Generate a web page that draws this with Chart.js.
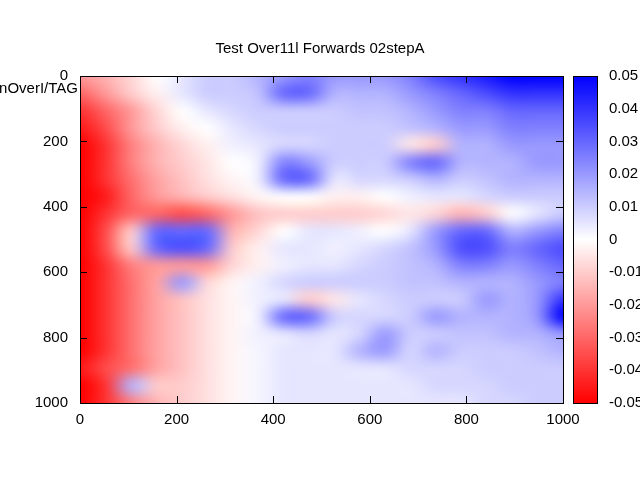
<!DOCTYPE html>
<html><head><meta charset="utf-8">
<script src="https://cdn.jsdelivr.net/npm/chart.js@4/dist/chart.umd.min.js"></script>
<style>html,body{margin:0;padding:0;background:#fff}#c{display:block}</style>
</head><body>
<canvas id="c" width="640" height="480"></canvas>
<script>
const titleText = "Test Over11l Forwards 02stepA";
const yLabelText = "nOverI/TAG";
const xTicks = [0, 200, 400, 600, 800, 1000];
const cbTicks = [0.05, 0.04, 0.03, 0.02, 0.01, 0, -0.01, -0.02, -0.03, -0.04, -0.05];
const xCenters = [25,75,125,175,225,275,325,375,425,475,525,575,625,675,725,775,825,875,925,975];
const yCenters = [25,75,125,175,225,275,325,375,425,475,525,575,625,675,725,775,825,875,925,975];
// values in units of 0.01, row by row (top y=0 to bottom y=1000)
const gridPct = [
[-2,-1.5,-0.8,0,0.5,1,1,1.5,2,2.5,2,2,2,2.5,3.5,4,4.5,5,5,5],
[-3,-2,-1,-0.3,0.5,1,1,1.2,3,3,1.5,1.5,1.5,2,2.5,3,3.5,4,4,4],
[-4,-3,-2,-0.8,0,0.5,0.8,1,1,1,1,1.2,1.2,1.5,2,2.5,2.5,3,3,3],
[-4.5,-3.5,-2,-1,-0.3,0,0.5,0.8,1,1,1,1,1,1.2,1.5,2,2,2.5,2.5,2.5],
[-5,-4,-2.5,-1.5,-0.8,-0.3,0.3,0.5,0.8,0.8,1,1,1,-0.5,-1,1.5,1.5,2,2,2],
[-5,-4,-2.5,-1.5,-1,-0.5,0,0.3,2.5,2,1,1,1,2.5,3,1.5,1.5,1.5,2,2],
[-5,-4,-2.8,-1.8,-1.2,-0.6,-0.2,0.3,3,3,0.5,0.8,0.8,1,1.5,1,1.2,1.5,1.5,1.5],
[-5,-4.5,-3,-2,-1.5,-1,-0.6,-0.2,0,0,-0.3,-0.3,0,0.3,0.5,0.5,0.8,1,1,1],
[-5,-4,-3,-3,-3.5,-3,-2,-1.2,-1,-1,-1,-1,-0.8,-0.5,-0.8,-1.5,-1,0,0.5,1],
[-5,-3.5,-1,3,3,3,-1.5,-0.8,0,0.5,0.5,0.3,0,0.5,2,3,3,1.5,2,2.5],
[-5,-3.5,-1,3,3.5,3,-1,-0.3,0.5,0.5,0.3,0.5,0.8,1.2,2,3.5,3.5,2.5,3,3.5],
[-5,-4,-2.5,-2,-2,-2,-0.8,-0.3,0.3,0.5,0.5,0.8,1,1.2,1.5,2.5,2.5,2,2.5,3],
[-5,-4,-2.8,-1.8,2,-0.8,-0.2,0.3,0.8,1,1,1,1,1.2,1.2,1.5,1.5,1.5,2,2.5],
[-5,-4,-2.8,-1.8,-1.2,-0.6,-0.2,0.3,0.5,-1,-0.5,0.5,0.8,1,1,1,2,1.5,2,4],
[-5,-4,-2.8,-1.8,-1.2,-0.6,-0.2,0.3,3,3,1,0.8,0.8,1,2,1.5,1.5,1.5,2,5],
[-5,-4,-2.8,-1.8,-1.2,-0.6,-0.2,0.3,0.5,0.8,0.5,0.8,2,1,1,1.2,1.2,1.5,1.5,2],
[-5,-4,-2.8,-1.8,-1.2,-0.6,-0.2,0.2,0.5,0.5,0.5,1.5,2,0.8,1.5,1,1,1,1.2,1.5],
[-4.5,-3.5,-2.8,-1.8,-1.2,-0.6,-0.2,0.2,0.5,0.5,0.5,0.5,0.5,0.8,0.8,0.8,1,1,1,1],
[-5,-4,1.5,-1,-1,-0.6,-0.2,0.2,0.5,0.5,0.5,0.5,0.5,0.5,0.8,0.8,0.8,1,1,1],
[-5,-4,-2.5,-1.5,-1,-0.6,-0.2,0.2,0.5,0.5,0.5,0.5,0.5,0.5,0.5,0.5,0.8,0.8,1,1]
];
const FONT = "Liberation Sans, Arial, sans-serif";
function colorFor(v){
  const t = Math.max(-1, Math.min(1, v/0.05));
  if (t < 0) { const g = Math.round(255*(1+t)); return [255,g,g]; }
  const g = Math.round(255*(1-t)); return [g,g,255];
}
const points = [];
gridPct.forEach((row,i)=>row.forEach((p,j)=>points.push({x:xCenters[j], y:yCenters[i], v:p/100})));

const heatPlugin = {
  id:'heat',
  beforeDatasetsDraw(chart){
    const ctx = chart.ctx, xs = chart.scales.x, ys = chart.scales.y, cs = chart.scales.c;
    const nx = xCenters.length, ny = yCenters.length;
    const off = document.createElement('canvas'); off.width = nx; off.height = ny;
    const octx = off.getContext('2d'); const img = octx.createImageData(nx, ny);
    points.forEach((p,k)=>{ const c = colorFor(p.v); img.data.set([c[0],c[1],c[2],255], k*4); });
    octx.putImageData(img,0,0);
    const l = xs.getPixelForValue(0), r = xs.getPixelForValue(1000);
    const t = ys.getPixelForValue(0), b = ys.getPixelForValue(1000);
    const cw = (r-l)/nx, ch = (b-t)/ny;
    ctx.save();
    ctx.beginPath(); ctx.rect(l,t,r-l,b-t); ctx.clip();
    ctx.imageSmoothingEnabled = true; ctx.imageSmoothingQuality = 'high';
    ctx.drawImage(off, 0,0,nx,ny, l, t, r-l, b-t);
    ctx.drawImage(off, l - cw/2, t - ch/2, r-l+cw, b-t+ch);
    ctx.restore();
    ctx.save(); ctx.strokeStyle='#000'; ctx.lineWidth=1;
    ctx.strokeRect(l+0.5,t+0.5,r-l,b-t);
    ctx.beginPath();
    xTicks.forEach(v=>{const x=Math.round(xs.getPixelForValue(v))+0.5; ctx.moveTo(x,t);ctx.lineTo(x,t+7);ctx.moveTo(x,b);ctx.lineTo(x,b-7);});
    xTicks.forEach(v=>{const y=Math.round(ys.getPixelForValue(v))+0.5; ctx.moveTo(l,y);ctx.lineTo(l+7,y);ctx.moveTo(r,y);ctx.lineTo(r-7,y);});
    ctx.stroke();
    const cl = 573, cr = 597;
    const ct = cs.getPixelForValue(0.05), cb = cs.getPixelForValue(-0.05);
    for (let y = Math.floor(ct); y < Math.ceil(cb); y++){
      const v = cs.getValueForPixel(y+0.5); const c = colorFor(v);
      ctx.fillStyle = `rgb(${c[0]},${c[1]},${c[2]})`; ctx.fillRect(cl,y,cr-cl,1);
    }
    ctx.strokeRect(cl+0.5,ct+0.5,cr-cl,cb-ct);
    ctx.fillStyle='#000'; ctx.font = `15px ${FONT}`; ctx.textAlign='right'; ctx.textBaseline='middle';
    ctx.fillText(yLabelText, l-2, t+13);
    ctx.restore();
  }
};

new Chart(document.getElementById('c'), {
  type:'scatter',
  data:{datasets:[{data:[], pointRadius:0}]},
  plugins:[heatPlugin],
  options:{
    responsive:false, animation:false, devicePixelRatio:1,
    layout:{padding:{left:0,right:0,top:0,bottom:43}},
    plugins:{legend:{display:false}, tooltip:{enabled:false},
      title:{display:true, text:titleText, color:'#000', font:{family:FONT,size:15,weight:'normal'}, padding:{top:40,bottom:18}}},
    scales:{
      x:{type:'linear', min:0, max:1000, afterBuildTicks:a=>{a.ticks=xTicks.map(v=>({value:v}));},
        grid:{display:false, drawTicks:false}, border:{display:false},
        ticks:{color:'#000', font:{family:FONT,size:15}, padding:8, maxRotation:0, callback:v=>String(v)}},
      y:{type:'linear', reverse:true, min:0, max:1000, afterBuildTicks:a=>{a.ticks=xTicks.map(v=>({value:v}));},
        afterFit:a=>{a.width=80;},
        grid:{display:false, drawTicks:false}, border:{display:false},
        ticks:{color:'#000', font:{family:FONT,size:15}, padding:12, callback:v=>String(v)}},
      c:{type:'linear', position:'right', min:-0.05, max:0.05,
        afterBuildTicks:a=>{a.ticks=cbTicks.map(v=>({value:v}));},
        afterFit:a=>{a.width=77;},
        grid:{display:false, drawTicks:false}, border:{display:false},
        ticks:{color:'#000', font:{family:FONT,size:15}, padding:46, callback:v=>String(Math.round(v*100)/100)}}
    }
  }
});
</script>
</body></html>
